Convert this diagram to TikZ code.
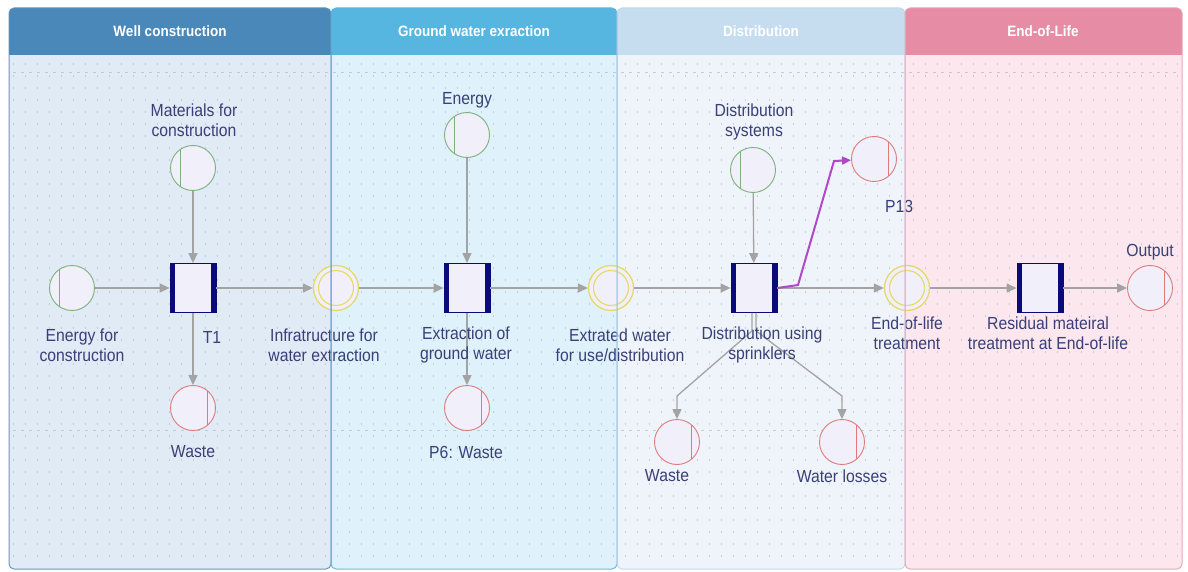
\documentclass[tikz,border=0pt]{standalone}
\usepackage{fontspec}
\setmainfont{Liberation Sans}[FakeStretch=0.9]
\usetikzlibrary{arrows.meta}
\definecolor{hA}{HTML}{4A88BA}\definecolor{bA}{HTML}{E0EBF5}\definecolor{oA}{HTML}{5B8FB6}
\definecolor{hB}{HTML}{56B6E0}\definecolor{bB}{HTML}{DFF1FA}\definecolor{oB}{HTML}{5DB4DC}
\definecolor{hC}{HTML}{C6DCEF}\definecolor{bC}{HTML}{EFF4FA}\definecolor{oC}{HTML}{C2D6E8}
\definecolor{hD}{HTML}{E68DA5}\definecolor{bD}{HTML}{FBE7ED}\definecolor{oD}{HTML}{E3A3B4}
\definecolor{placefill}{HTML}{F1EFFA}
\definecolor{greenc}{HTML}{7DB07D}
\definecolor{redc}{HTML}{E07A7A}
\definecolor{yellowc}{HTML}{E6D968}
\definecolor{navyc}{HTML}{0A0A78}
\definecolor{arrowc}{HTML}{A3A3A3}
\definecolor{purpc}{HTML}{B048C8}
\definecolor{textc}{HTML}{3A3F78}
\definecolor{dotc}{HTML}{A9B3C2}
\tikzset{
  place/.style={circle, minimum size=45pt, inner sep=0pt, fill=placefill, line width=0.9pt},
  inplace/.style={place, draw=greenc, path picture={\draw[greenc, line width=0.9pt] ([xshift=-13pt]path picture bounding box.center) ++(0,-30) -- ++(0,60);}},
  outplace/.style={place, draw=redc, path picture={\draw[redc, line width=0.9pt] ([xshift=14pt]path picture bounding box.center) ++(0,-30) -- ++(0,60);}},
  midplace/.style={place, draw=yellowc, line width=1.3pt, path picture={\draw[yellowc, line width=1.1pt] (path picture bounding box.center) circle (17.5pt);}},
  trans/.style={rectangle, minimum width=46pt, minimum height=49pt, inner sep=0pt, fill=placefill, draw=navyc, line width=0.8pt,
    path picture={\fill[navyc] (path picture bounding box.north west) rectangle ([xshift=5pt]path picture bounding box.south west);
                  \fill[navyc] (path picture bounding box.north east) rectangle ([xshift=-5pt]path picture bounding box.south east);}},
  arr/.style={draw=arrowc, line width=1.3pt, -{Triangle[length=10pt,width=9pt]}},
  parr/.style={draw=purpc, line width=2pt, -{Triangle[length=9pt,width=8pt]}},
  lab/.style={text=textc, font=\fontsize{17.5}{20}\selectfont, align=center, inner sep=0pt},
  head/.style={text=white, font=\fontsize{15}{17}\selectfont\bfseries, inner sep=0pt},
}
\begin{document}
\begin{tikzpicture}[x=1pt,y=-1pt]
\useasboundingbox (0,0) rectangle (1188,572);
\fill[white] (0,0) rectangle (1188,572);
% lanes
\foreach \xa/\xb/\hc/\bc in {9/331/hA/bA, 331/617/hB/bB, 617/905/hC/bC, 905/1182/hD/bD}{
  \fill[\bc, rounded corners=5pt] (\xa,8) rectangle (\xb,569);
  \begin{scope}
    \clip (\xa,8) rectangle (\xb,55);
    \fill[\hc, rounded corners=5pt] (\xa,8) rectangle (\xb,80);
  \end{scope}
}
% dotted grid
\foreach \y in {64,76,...,562}{
  \draw[dotc, line width=1.2pt, opacity=0.55, dash pattern=on 1.2pt off 10.8pt] (13,\y) -- (1178,\y);
}
\draw[dotc, line width=0.6pt, opacity=0.6, dash pattern=on 3pt off 5pt] (13,430) -- (1178,430);
\draw[dotc, line width=0.6pt, opacity=0.6, dash pattern=on 3pt off 5pt] (13,72) -- (1178,72);
% headers
\node[head] (hd1) at (170,31) {Well construction};
\node[head] (hd2) at (474,31) {Ground water exraction};
\node[head] (hd3) at (761,31) {Distribution};
\node[head] (hd4) at (1043,31) {End-of-Life};
% nodes
\node[inplace] (mat) at (193,168) {};
\node[inplace] (enc) at (72,288) {};
\node[trans] (t1) at (193,288) {};
\node[outplace] (w1) at (193,408) {};
\node[midplace] (infra) at (336,288) {};
\node[inplace] (energy) at (467,135) {};
\node[trans] (ext) at (467,288) {};
\node[outplace] (w2) at (467,408) {};
\node[midplace] (water) at (611,288) {};
\node[inplace] (dsys) at (753,170) {};
\node[trans] (dist) at (754,288) {};
\node[outplace] (p13) at (874,159) {};
\node[midplace] (eol) at (907,288) {};
\node[trans] (res) at (1040,288) {};
\node[outplace] (out) at (1150,288) {};
\node[outplace] (w3) at (677,442) {};
\node[outplace] (loss) at (842,442) {};
% connectors
\draw[arr] (enc) -- (t1);
\draw[arr] (mat) -- (t1);
\draw[arr] (t1) -- (w1);
\draw[arr] (t1) -- (infra);
\draw[arr] (infra) -- (ext);
\draw[arr] (energy) -- (ext);
\draw[arr] (ext) -- (w2);
\draw[arr] (ext) -- (water);
\draw[arr] (water) -- (dist);
\draw[arr] (dsys) -- (dist);
\draw[arr] (dist) -- (eol);
\draw[arr] (eol) -- (res);
\draw[arr] (res) -- (out);
\coordinate (k1) at (677,396);
\coordinate (k2) at (842,396);
\draw[arr] ([xshift=-2pt]dist.south) -- ++(0,18) -- (k1) -- (w3);
\draw[arr] ([xshift=2pt]dist.south) -- ++(0,18) -- (k2) -- (loss);
\coordinate (pa) at (798,285);
\coordinate (pb) at (834,161);
\draw[parr] (dist.east) -- (pa) -- (pb) -- (p13);
% labels
\node[lab] (l-mat) at (194,120) {Materials for\\construction};
\node[lab] (l-enc) at (82,345) {Energy for\\construction};
\node[lab] (l-t1) at (212,337) {T1};
\node[lab] (l-w1) at (193,452) {Waste};
\node[lab] (l-infra) at (324,345) {Infratructure for\\water extraction};
\node[lab] (l-energy) at (467,100) {Energy};
\node[lab] (l-ext) at (466,345) {Extraction of\\ground water};
\node[lab] (l-w2) at (466,452) {P6: Waste};
\node[lab] (l-water) at (620,345) {Extrated water\\for use/distribution};
\node[lab] (l-dsys) at (754,122) {Distribution\\systems};
\node[lab] (l-dist) at (762,345) {Distribution using\\sprinklers};
\node[lab] (l-p13) at (899,206) {P13};
\node[lab] (l-eol) at (907,333) {End-of-life\\treatment};
\node[lab] (l-res) at (1048,333) {Residual mateiral\\treatment at End-of-life};
\node[lab] (l-out) at (1150,252) {Output};
\node[lab] (l-w3) at (667,476) {Waste};
\node[lab] (l-loss) at (842,476) {Water losses};
% lane outlines
\draw[oA, line width=1pt, rounded corners=5pt, opacity=0.9] (9,8) rectangle (331,569);
\draw[oB, line width=1pt, rounded corners=5pt, opacity=0.9] (331,8) rectangle (617,569);
\draw[oC, line width=1pt, rounded corners=5pt, opacity=0.9] (617,8) rectangle (905,569);
\draw[oD, line width=1pt, rounded corners=5pt, opacity=0.9] (905,8) rectangle (1182,569);
\end{tikzpicture}
\end{document}
